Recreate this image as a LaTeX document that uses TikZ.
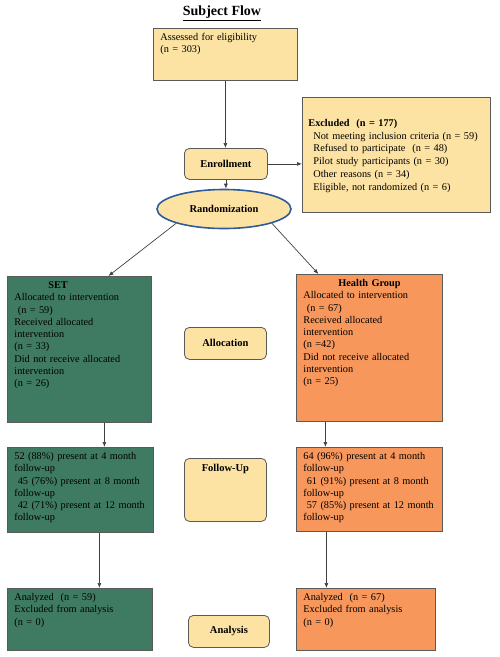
\documentclass[tikz,border=0pt]{standalone}
\usepackage{fontspec}
\setmainfont{Liberation Serif}
\usetikzlibrary{shapes.geometric,arrows.meta}

\definecolor{paleyellow}{HTML}{FCE3A4}
\definecolor{setgreen}{HTML}{3F7B62}
\definecolor{healthorange}{HTML}{F7975B}
\definecolor{ringblue}{HTML}{2E5C9A}
\definecolor{edgegray}{HTML}{5A5A5A}

\begin{document}
\begin{tikzpicture}[x=1pt, y=-1pt,
  every node/.style={font=\fontsize{10.3}{12.3}\selectfont},
  box/.style={draw=edgegray, thick, anchor=north west, align=left,
    inner xsep=7pt, inner ysep=3pt, text height=9pt},
  stage/.style={draw=edgegray, thick, fill=paleyellow, rounded corners=5pt,
    anchor=north west, inner sep=4pt, font=\fontsize{10.5}{12}\selectfont\bfseries},
  flow/.style={-{Latex[length=5pt,width=4pt]}, black!75, line width=0.7pt}
]
  \useasboundingbox (0,0) rectangle (500,657);

  % Title
  \node[font=\fontsize{14}{16}\selectfont\bfseries] (title) at (222,13) {\underline{Subject Flow}};

  % Screening
  \node[box, fill=paleyellow, text width=130pt, text depth=37pt] (assess) at (153,28)
    {Assessed for eligibility\\(n = 303)};
  \node[stage, minimum width=83pt, minimum height=31pt] (enrol) at (184,148) {Enrollment};
  \node[box, fill=paleyellow, text width=176pt, minimum height=115pt, inner xsep=6pt,
    font=\fontsize{10.3}{12.7}\selectfont] (excl) at (302,97)
    {\textbf{Excluded\ \ (n = 177)}\\
     \hspace*{5pt}Not meeting inclusion criteria (n = 59)\\
     \hspace*{5pt}Refused to participate\ \ (n = 48)\\
     \hspace*{5pt}Pilot study participants (n = 30)\\
     \hspace*{5pt}Other reasons (n = 34)\\
     \hspace*{5pt}Eligible, not randomized (n = 6)};
  \node[ellipse, draw=ringblue, line width=1.6pt, fill=paleyellow, minimum width=134pt,
    minimum height=39pt, font=\fontsize{10.5}{12}\selectfont\bfseries] (rand) at (224,209) {Randomization};

  % Allocation
  \node[box, fill=setgreen, text width=130pt, text depth=131pt] (setalloc) at (7,276)
    {\hspace*{34pt}\textbf{SET}\\
     Allocated to intervention\\
     \ (n = 59)\\
     Received allocated\\
     intervention\\
     (n = 33)\\
     Did not receive allocated\\
     intervention\\
     (n = 26)};
  \node[box, fill=healthorange, text width=132pt, text depth=132pt] (healthalloc) at (296,274)
    {\hspace*{35pt}\textbf{Health Group}\\
     Allocated to intervention\\
     \ (n = 67)\\
     Received allocated\\
     intervention\\
     (n =42)\\
     Did not receive allocated\\
     intervention\\
     (n = 25)};
  \node[stage, minimum width=82pt, minimum height=32pt] (alloc) at (184,327) {Allocation};

  % Follow-up
  \node[box, fill=setgreen, text width=132pt, text depth=70pt] (setfollow) at (7,447)
    {52 (88\%) present at 4 month\\
     follow-up\\
     \ 45 (76\%) present at 8 month\\
     follow-up\\
     \ 42 (71\%) present at 12 month\\
     follow-up};
  \node[box, fill=healthorange, text width=132pt, text depth=69pt] (healthfollow) at (296,447)
    {64 (96\%) present at 4 month\\
     follow-up\\
     \ 61 (91\%) present at 8 month\\
     follow-up\\
     \ 57 (85\%) present at 12 month\\
     follow-up};
  \node[stage, minimum width=82pt, text height=9pt, text depth=46pt] (follow) at (184,458) {Follow-Up};

  % Analysis
  \node[box, fill=setgreen, text width=131pt, text depth=47pt] (setanal) at (7,588)
    {Analyzed\ \ (n = 59)\\
     Excluded from analysis\\
     (n = 0)};
  \node[box, fill=healthorange, text width=125pt, text depth=47pt] (healthanal) at (296,588)
    {Analyzed\ \ (n = 67)\\
     Excluded from analysis\\
     (n = 0)};
  \node[stage, minimum width=81pt, minimum height=32pt] (anal) at (188,615) {Analysis};

  % Connectors
  \draw[flow] (assess.south) -- (assess.south |- enrol.north);
  \draw[flow] (enrol.east) -- (enrol.east -| excl.west);
  \draw[flow] (enrol.south) -- (enrol.south |- rand.north);
  \draw[flow] (rand.south west) -- ([xshift=29pt]setalloc.north);
  \draw[flow] (rand.south east) -- ([xshift=-51pt]healthalloc.north);
  \draw[flow] ([xshift=25pt]setalloc.south) coordinate (s1) -- (s1 |- setfollow.north);
  \draw[flow] ([xshift=-44pt]healthalloc.south) coordinate (h1) -- (h1 |- healthfollow.north);
  \draw[flow] ([xshift=19pt]setfollow.south) coordinate (s2) -- (s2 |- setanal.north);
  \draw[flow] ([xshift=-43pt]healthfollow.south) coordinate (h2) -- (h2 |- healthanal.north);
\end{tikzpicture}
\end{document}
